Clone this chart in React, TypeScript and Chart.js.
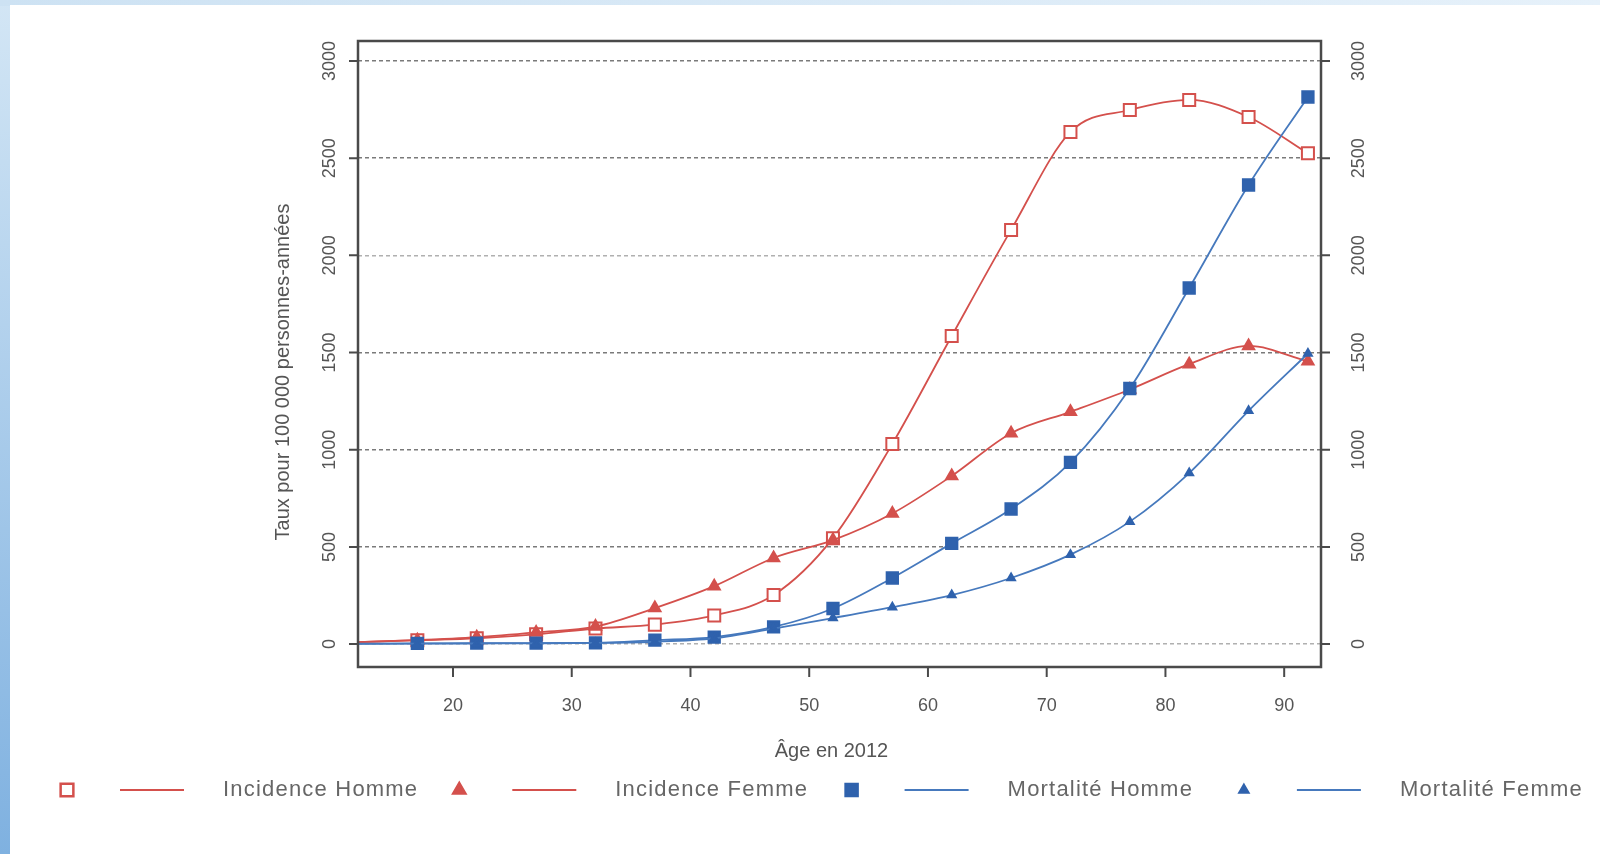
import React, { useEffect, useRef } from "react";
import { Chart, registerables } from "chart.js";

Chart.register(...registerables);

// ---- Data ----
const ages = [12, 17, 22, 27, 32, 37, 42, 47, 52, 57, 62, 67, 72, 77, 82, 87, 92];
const incidenceHomme = [10, 20, 30, 50, 80, 100, 147, 252, 545, 1030, 1585, 2131, 2635, 2748, 2800, 2712, 2525];
const incidenceFemme = [10, 20, 35, 60, 90, 185, 298, 443, 535, 672, 865, 1085, 1195, 1310, 1440, 1534, 1455];
const mortaliteHomme = [2, 4, 5, 5, 6, 20, 36, 88, 183, 340, 518, 695, 935, 1315, 1832, 2362, 2815];
const mortaliteFemme = [1, 2, 3, 4, 6, 12, 30, 80, 134, 190, 252, 340, 460, 630, 880, 1200, 1495];
const seriesLabels = ["Incidence Homme", "Incidence Femme", "Mortalité Homme", "Mortalité Femme"];
const yTickValues = [0, 500, 1000, 1500, 2000, 2500, 3000];
const xTickValues = [20, 30, 40, 50, 60, 70, 80, 90];
const xTitle = "Âge en 2012";
const yTitle = "Taux pour 100 000 personnes-années";

const RED = "#d4504c";
const BLUE = "#2f62ad";
const BLUE_LINE = "#4679bd";
const TEXT = "#555555";
const FONT = "'Liberation Sans', Arial, sans-serif";

const markerStyles = [
  { style: "rect", r: 8.5, fill: "#ffffff", stroke: RED, lineColor: RED, legendR: 9 },
  { style: "triangle", r: 6.5, fill: RED, stroke: RED, lineColor: RED, legendR: 7 },
  { style: "rect", r: 8, fill: BLUE, stroke: BLUE, lineColor: BLUE_LINE, legendR: 8.5 },
  { style: "triangle", r: 4.5, fill: BLUE, stroke: BLUE, lineColor: BLUE_LINE, legendR: 5 },
];

function drawMarker(ctx: CanvasRenderingContext2D, kind: string, x: number, y: number, r: number, fill: string, stroke: string) {
  ctx.save();
  ctx.fillStyle = fill;
  ctx.strokeStyle = stroke;
  ctx.lineWidth = 2.5;
  ctx.beginPath();
  if (kind === "rect") {
    const s = Math.SQRT1_2 * r;
    ctx.rect(x - s, y - s, 2 * s, 2 * s);
  } else {
    ctx.moveTo(x, y - r);
    ctx.lineTo(x + r * 0.866, y + r * 0.5);
    ctx.lineTo(x - r * 0.866, y + r * 0.5);
    ctx.closePath();
  }
  ctx.fill();
  ctx.stroke();
  ctx.restore();
}

const framePlugin = {
  id: "framePlugin",
  afterDraw(chart: any) {
    const { ctx, chartArea } = chart;
    const xs = chart.scales.x;
    const ys = chart.scales.y;
    const { left, right, top, bottom } = chartArea;
    ctx.save();
    // box
    ctx.strokeStyle = "#4a4a4a";
    ctx.lineWidth = 2.5;
    ctx.strokeRect(left, top, right - left, bottom - top);
    // y tick marks and labels (both sides)
    ctx.lineWidth = 2;
    ctx.fillStyle = TEXT;
    ctx.font = `18px ${FONT}`;
    ctx.textAlign = "center";
    ctx.textBaseline = "middle";
    yTickValues.forEach((v) => {
      const py = ys.getPixelForValue(v);
      ctx.strokeStyle = "#4a4a4a";
      ctx.beginPath();
      ctx.moveTo(left - 9, py);
      ctx.lineTo(left, py);
      ctx.moveTo(right, py);
      ctx.lineTo(right + 9, py);
      ctx.stroke();
      [left - 28, right + 38].forEach((lx) => {
        ctx.save();
        ctx.translate(lx, py);
        ctx.rotate(-Math.PI / 2);
        ctx.fillText(String(v), 0, 0);
        ctx.restore();
      });
    });
    // x tick marks and labels
    xTickValues.forEach((v) => {
      const px = xs.getPixelForValue(v);
      ctx.beginPath();
      ctx.moveTo(px, bottom);
      ctx.lineTo(px, bottom + 10);
      ctx.stroke();
      ctx.fillText(String(v), px, bottom + 39);
    });
    // titles
    ctx.font = `20px ${FONT}`;
    ctx.fillText(xTitle, (left + right) / 2 - 8, bottom + 84);
    ctx.save();
    ctx.translate(left - 75, 372);
    ctx.rotate(-Math.PI / 2);
    ctx.fillText(yTitle, 0, 0);
    ctx.restore();
    // legend
    const legendY = 790;
    ctx.font = `22px ${FONT}`;
    (ctx as any).letterSpacing = "1.2px";
    ctx.textAlign = "left";
    seriesLabels.forEach((label, i) => {
      const start = 67 + i * 392.3;
      const m = markerStyles[i];
      drawMarker(ctx, m.style, start, legendY, m.legendR, m.fill, m.stroke);
      ctx.strokeStyle = m.lineColor;
      ctx.lineWidth = 2;
      ctx.beginPath();
      ctx.moveTo(start + 53, legendY);
      ctx.lineTo(start + 117, legendY);
      ctx.stroke();
      ctx.fillStyle = "#666666";
      ctx.fillText(label, start + 156, legendY);
    });
    ctx.restore();
  },
};

export default function App() {
  const canvasRef = useRef<HTMLCanvasElement | null>(null);

  useEffect(() => {
    document.body.style.margin = "0";
    const canvas = canvasRef.current;
    if (!canvas) return;
    const seriesData = [incidenceHomme, incidenceFemme, mortaliteHomme, mortaliteFemme];
    const datasets = seriesData.map((vals, i) => {
      const m = markerStyles[i];
      return {
        label: seriesLabels[i],
        data: ages.map((a, j) => ({ x: a, y: vals[j] })),
        borderColor: m.lineColor,
        borderWidth: 1.8,
        backgroundColor: m.fill,
        pointBackgroundColor: m.fill,
        pointBorderColor: m.stroke,
        pointBorderWidth: 2,
        pointStyle: m.style,
        pointRadius: (c: any) => (c.dataIndex === 0 ? 0 : m.r),
        cubicInterpolationMode: "monotone",
        fill: false,
        order: 4 - i,
      };
    });
    const chart = new Chart(canvas, {
      type: "line",
      data: { datasets } as any,
      options: {
        animation: false,
        responsive: false,
        maintainAspectRatio: false,
        layout: { padding: { left: 358, right: 1600 - 1321, top: 41, bottom: 854 - 667 } },
        plugins: { legend: { display: false }, tooltip: { enabled: false } },
        scales: {
          x: {
            type: "linear",
            min: 12,
            max: 93.1,
            display: true,
            grid: { display: false, drawTicks: false },
            border: { display: false },
            ticks: { display: false },
            afterBuildTicks: (axis: any) => {
              axis.ticks = xTickValues.map((v) => ({ value: v }));
            },
          },
          y: {
            type: "linear",
            min: -118,
            max: 3103,
            display: true,
            grid: {
              display: true,
              drawTicks: false,
              color: (c: any) => (c.tick && (c.tick.value === 2000 || c.tick.value === 0) ? "#b0b0b0" : "#7a7a7a"),
              lineWidth: 1.5,
            },
            border: { display: false, dash: [4, 3] },
            ticks: { display: false },
            afterBuildTicks: (axis: any) => {
              axis.ticks = yTickValues.map((v) => ({ value: v }));
            },
          },
        },
      } as any,
      plugins: [framePlugin],
    });
    return () => chart.destroy();
  }, []);

  return (
    <div
      style={{
        position: "absolute",
        left: 0,
        top: 0,
        width: 1600,
        height: 854,
        background: "linear-gradient(to bottom, #d3e6f5, #7fb1e0)",
      }}
    >
      <div
        style={{
          position: "absolute",
          left: 0,
          top: 0,
          width: 1600,
          height: 6,
          background: "linear-gradient(to right, #cde2f3, #e6f1fa)",
        }}
      />
      <div style={{ position: "absolute", left: 10, top: 5, right: 0, bottom: 0, background: "#ffffff" }} />
      <canvas
        ref={canvasRef}
        width={1600}
        height={854}
        style={{ position: "absolute", left: 0, top: 0, width: 1600, height: 854 }}
      />
    </div>
  );
}
